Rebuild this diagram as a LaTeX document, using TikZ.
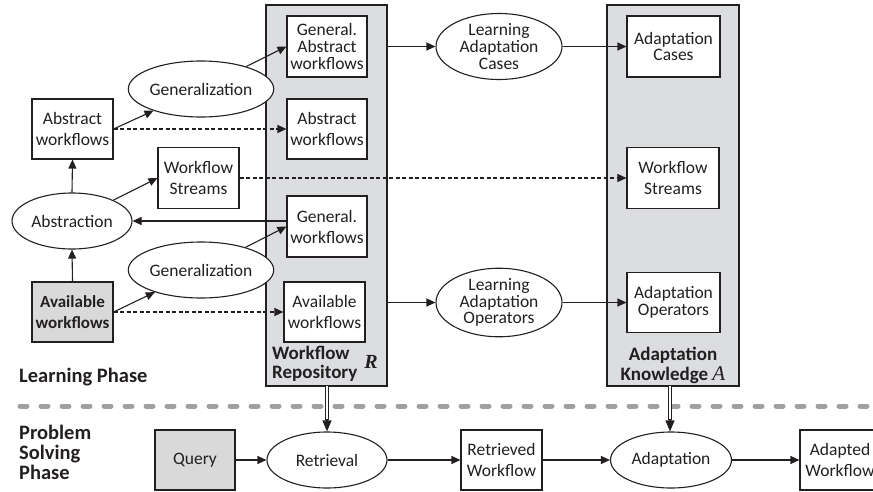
\documentclass[tikz,border=0pt]{standalone}
\usepackage{fontspec}
\setmainfont{Carlito}
\newfontfamily\rmserif{Liberation Serif}
\usetikzlibrary{shapes.geometric,arrows.meta,calc}
\definecolor{panelgray}{RGB}{220,221,224}
\definecolor{inputgray}{RGB}{217,217,217}
\definecolor{sepgray}{RGB}{160,160,160}
\definecolor{ink}{RGB}{35,31,32}

\begin{document}
\begin{tikzpicture}[x=1pt,y=-1pt,
  every node/.style={text=ink},
  txt/.style={font=\fontsize{17.5}{21}\selectfont},
  tight/.style={font=\fontsize{17.5}{16.8}\selectfont},
  box/.style={draw=ink, line width=1.1pt, fill=white, align=center, inner sep=0pt,
    minimum width=#1, minimum height=60pt, txt},
  box/.default=81pt,
  oval/.style={draw=ink, ellipse, line width=1.1pt, fill=white, align=center, inner sep=0pt, txt},
  panel/.style={draw=ink, line width=1.1pt, fill=panelgray},
  label/.style={font=\bfseries\fontsize{20.5}{20}\selectfont, align=left, inner sep=0pt},
  arr/.style={draw=ink, line width=1.1pt, -{Triangle[length=9pt,width=8pt]}},
  dsh/.style={arr, dash pattern=on 4pt off 2.5pt},
  dbl/.style={draw=ink, line width=0.9pt, double, double distance=2pt, shorten >=11pt},
  dbltip/.style={draw=ink, line width=1.1pt, -{Triangle[length=11pt,width=9pt]}},
]
\useasboundingbox (0,0) rectangle (873,491);
\clip (0,0) rectangle (873,491);

% ---- phase separator ----
\draw[sepgray, line width=5pt, line cap=round, dash pattern=on 7pt off 14pt]
  (20,406) -- (880,406);

% ---- storage panels ----
\draw[panel] (266,5) rectangle (387,386);
\draw[panel] (607,5) rectangle (739,386);
\coordinate (repoS) at (327,386);
\coordinate (akS) at (670,386);
\coordinate (repoE1) at (387,46.5);
\coordinate (repoE2) at (387,302.5);

% ---- learning phase: left side ----
\node[box] (aw) at (72.5,129) {Abstract\\workflows};
\node[box, fill=inputgray, font=\bfseries\fontsize{17}{21}\selectfont] (avl) at (72.5,312) {Available\\workflows};
\node[box, minimum height=61pt] (ws) at (198.5,178) {Workflow\\Streams};
\node[oval, minimum width=118pt, minimum height=56pt] (gen1) at (201,89) {Generalization};
\node[oval, minimum width=120pt, minimum height=56pt] (abs) at (72,221) {Abstraction};
\node[oval, minimum width=118pt, minimum height=56pt] (gen2) at (201,270) {Generalization};

% ---- workflow repository contents ----
\node[box=80pt, minimum height=61pt, tight] (gaw) at (327,46.5) {General.\\Abstract\\workflows};
\node[box=80pt] (raw) at (327,129) {Abstract\\workflows};
\node[box=80pt, minimum height=61pt] (gw) at (327,226.5) {General.\\workflows};
\node[box] (ravl) at (324.5,312) {Available\\workflows};
\node[label, font=\bfseries\fontsize{19}{19}\selectfont, anchor=west] (repolbl) at (272,364) {Workflow\\Repository};
\node[inner sep=0pt, font=\rmserif\bfseries\itshape\fontsize{20}{20}\selectfont] (repoR) at (371,362) {R};

% ---- adaptation learners ----
\node[oval, tight, minimum width=126pt, minimum height=66pt] (lac) at (499,46.5) {Learning\\Adaptation\\Cases};
\node[oval, tight, minimum width=126pt, minimum height=66pt] (lao) at (499,302.5) {Learning\\Adaptation\\Operators};

% ---- adaptation knowledge contents ----
\node[box=93pt, minimum height=61pt, tight] (ac) at (673.5,46.5) {Adaptation\\Cases};
\node[box=92pt, minimum height=61pt] (aws) at (673,178) {Workflow\\Streams};
\node[box=93pt, tight] (ao) at (673.5,302.5) {Adaptation\\Operators};
\node[label, font=\bfseries\fontsize{19}{20}\selectfont, align=center] (aklbl) at (673,365)
  {Adaptation\\Knowledge {\rmserif\mdseries\itshape\fontsize{21}{20}\selectfont A}};

% ---- phase labels ----
\node[label, anchor=west] (lp) at (19,377) {Learning Phase};
\node[label, anchor=west] (psp) at (19,452) {Problem\\Solving\\Phase};

% ---- problem solving phase ----
\node[box=80pt, fill=inputgray] (query) at (195,460) {Query};
\node[oval, minimum width=120pt, minimum height=56pt] (retr) at (327,460) {Retrieval};
\node[box] (rw) at (501.5,460) {Retrieved\\Workflow};
\node[oval, minimum width=121pt, minimum height=56pt] (adapt) at (671,460) {Adaptation};
\node[box=80pt] (adw) at (840,460) {Adapted\\Workflow};

% ---- learning connectors ----
\draw[arr] (aw.east) -- (gen1);
\draw[arr] (gen1) -- (gaw.west);
\draw[dsh] (aw.east) -- (raw.west);
\draw[arr] (abs.north) -- (aw.south);
\draw[arr] (abs) -- (ws.west);
\draw[dsh] (ws.east) -- (aws.west);
\draw[arr] (gw.west |- abs.east) -- (abs.east);
\draw[arr] (gen2) -- (gw.west);
\draw[arr] (avl.north) -- (abs.south);
\draw[arr] (avl.east) -- (gen2);
\draw[dsh] (avl.east) -- (ravl.west);
\draw[arr] (repoE1) -- (lac.west);
\draw[arr] (lac.east) -- (ac.west);
\draw[arr] (repoE2) -- (lao.west);
\draw[arr] (lao.east) -- (ao.west);

% ---- knowledge feeding the problem solving phase ----
\draw[dbl] (repoS) -- (retr.north);
\draw[dbltip] ($(retr.north)+(0,-12)$) -- (retr.north);
\draw[dbl] (akS) -- (adapt.north -| akS);
\draw[dbltip] ($(adapt.north -| akS)+(0,-12)$) -- (adapt.north -| akS);

% ---- problem solving connectors ----
\draw[arr] (query.east) -- (retr.west);
\draw[arr] (retr.east) -- (rw.west);
\draw[arr] (rw.east) -- (adapt.west);
\draw[arr] (adapt.east) -- (adw.west);
\end{tikzpicture}
\end{document}
